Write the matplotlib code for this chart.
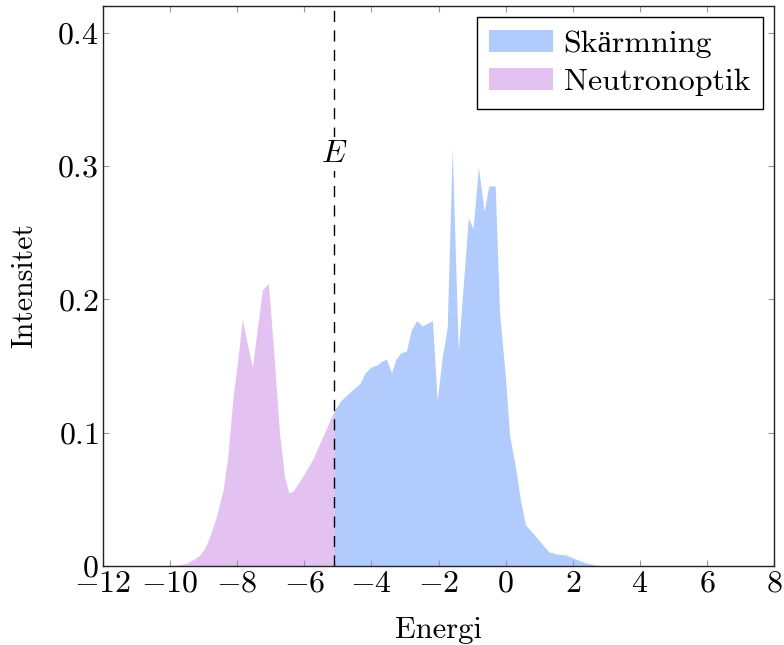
import matplotlib

matplotlib.use("Agg")
import matplotlib.pyplot as plt
from matplotlib.patches import Patch
from matplotlib.ticker import FuncFormatter, MultipleLocator

# energy / intensity, split at the threshold E
E_CUT = -5.1

neutron_e = [-11.65, -10.0, -9.8, -9.52, -9.3, -9.12, -8.95, -8.82, -8.62,
             -8.42, -8.28, -8.13, -7.98, -7.85, -7.55, -7.25, -7.07, -6.88,
             -6.74, -6.59, -6.46, -6.34, -6.05, -5.75, -5.45, -5.1]
neutron_i = [0.0, 0.0, 0.0008, 0.002, 0.005, 0.008, 0.014, 0.022, 0.037,
             0.057, 0.082, 0.125, 0.155, 0.185, 0.149, 0.207, 0.212, 0.150,
             0.100, 0.067, 0.055, 0.056, 0.067, 0.080, 0.097, 0.117]

shield_e = [-5.1, -4.91, -4.66, -4.34, -4.18, -4.02, -3.82, -3.67, -3.55,
            -3.40, -3.27, -3.12, -2.96, -2.81, -2.65, -2.48, -2.18, -2.04,
            -1.89, -1.74, -1.59, -1.41, -1.11, -0.97, -0.81, -0.64, -0.50,
            -0.31, -0.18, 0.0, 0.12, 0.29, 0.44, 0.59, 0.99, 1.28, 1.53,
            1.80, 2.08, 2.37, 2.67, 3.0, 3.45]
shield_i = [0.117, 0.124, 0.130, 0.137, 0.145, 0.149, 0.151, 0.154, 0.155,
            0.145, 0.155, 0.160, 0.161, 0.177, 0.184, 0.180, 0.184, 0.124,
            0.156, 0.179, 0.3135, 0.161, 0.261, 0.253, 0.299, 0.266, 0.285,
            0.285, 0.190, 0.140, 0.098, 0.075, 0.050, 0.031, 0.0195, 0.0107,
            0.009, 0.0083, 0.0053, 0.0025, 0.0008, 0.0, 0.0]

labels = ["Skärmning", "Neutronoptik"]
BLUE = "#b1cbfc"
PURPLE = "#e3c1f1"

# cmr10 lacks the umlaut; Liberation Serif fills in for it
plt.rcParams["font.family"] = ["cmr10", "Liberation Serif"]
plt.rcParams["mathtext.fontset"] = "cm"
plt.rcParams["axes.formatter.use_mathtext"] = True

fig = plt.figure(figsize=(7.84, 6.45), dpi=100)
ax = fig.add_axes([103 / 784, 1 - 566 / 645, 671 / 784, 560 / 645])

ax.fill_between(shield_e, shield_i, 0, color=BLUE, lw=0)
ax.fill_between(neutron_e, neutron_i, 0, color=PURPLE, lw=0)
ax.axvline(E_CUT, color="black", lw=1.0, ls=(0, (8, 6)))
ax.text(E_CUT, 0.309, "$E$", fontsize=23, ha="center", va="center",
        bbox=dict(facecolor="white", edgecolor="none", pad=2))

ax.set_xlim(-12, 8)
ax.set_ylim(0, 0.42)
ax.xaxis.set_major_locator(MultipleLocator(2))
ax.yaxis.set_major_locator(MultipleLocator(0.1))
fmt = FuncFormatter(lambda v, p: f"${v:g}$")
ax.xaxis.set_major_formatter(fmt)
ax.yaxis.set_major_formatter(fmt)
ax.tick_params(direction="in", top=True, right=True, length=4.5, width=0.8,
               color="#999999", labelsize=23, pad=3)
for s in ax.spines.values():
    s.set_linewidth(1.0)
    s.set_color("#222222")
    s.set_zorder(5)

ax.set_xlabel("Energi", fontsize=22, labelpad=13.5)
ax.set_ylabel("Intensitet", fontsize=21.5, labelpad=13.5)

handles = [Patch(facecolor=BLUE, edgecolor="none"),
           Patch(facecolor=PURPLE, edgecolor="none")]
leg = ax.legend(handles, labels, loc="upper right", fontsize=23,
                fancybox=False, framealpha=1, edgecolor="black",
                handlelength=2.0, handleheight=0.7, handletextpad=0.33,
                borderaxespad=0.34, borderpad=0.4, labelspacing=0.3)
leg.get_frame().set_linewidth(1.0)

fig.savefig("out.png", dpi=100)
